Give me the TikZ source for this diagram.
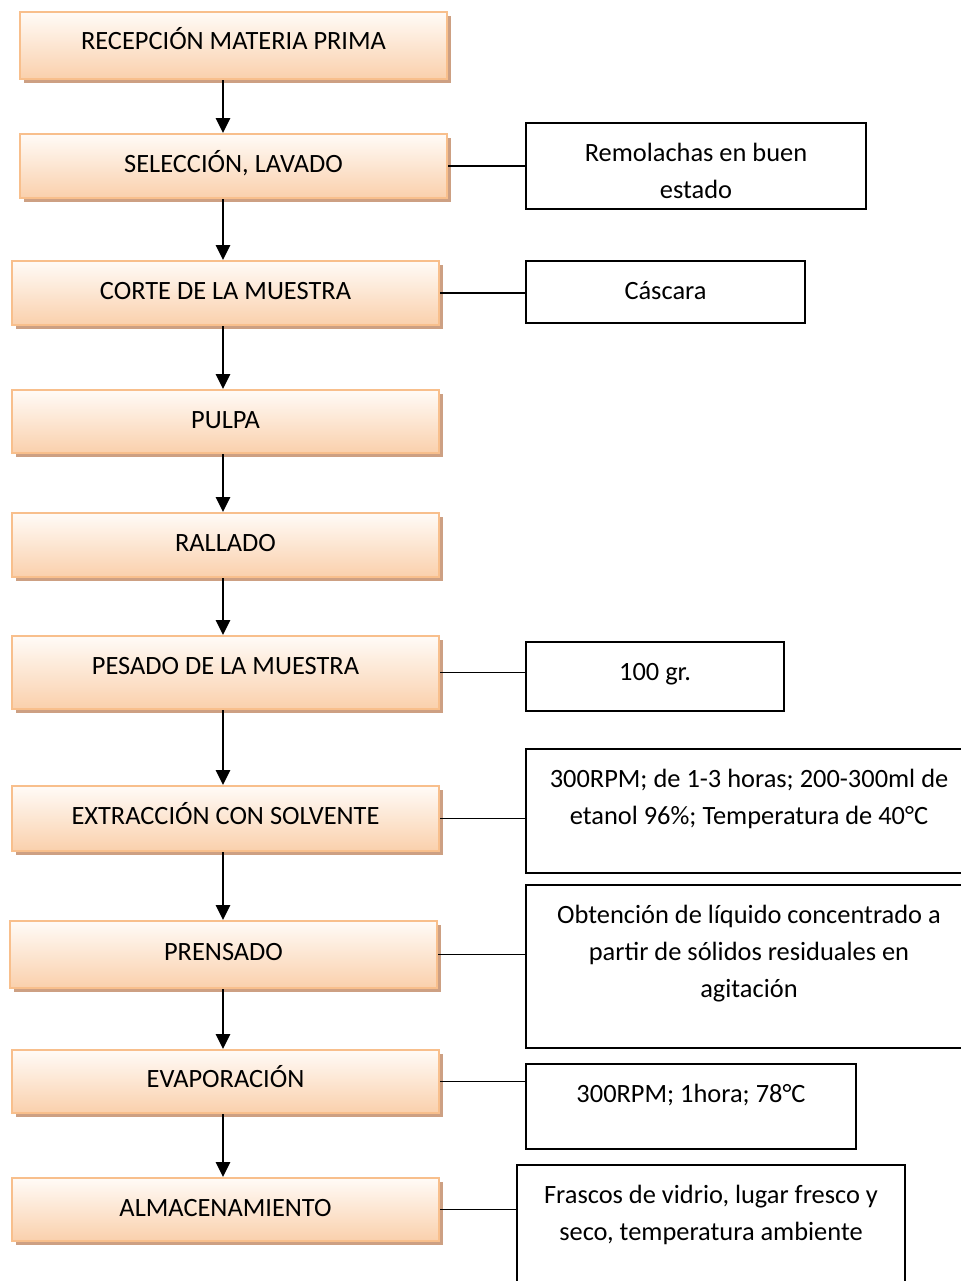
\documentclass[tikz,border=0pt]{standalone}
\usepackage{fontspec}
\setmainfont{Carlito}
\usetikzlibrary{fit,arrows.meta}

\definecolor{peachtop}{HTML}{FFFBF7}
\definecolor{peachbot}{HTML}{FAD0AC}
\definecolor{peachline}{HTML}{F8BF8C}
\definecolor{shadowbrown}{HTML}{CDA083}

% centred block of lines whose baseline is the first line
\newcommand{\txtlines}[1]{\begin{tabular}[t]{@{}c@{}}#1\end{tabular}}

\tikzset{
  stepbox/.style={draw=peachline, line width=1pt, inner sep=0pt,
    top color=peachtop, bottom color=peachbot,
    preaction={fill=shadowbrown, transform canvas={shift={(2pt,-2pt)}}}},
  notebox/.style={draw=black, line width=1.3pt, inner sep=0pt, fill=white},
  txt/.style={inner sep=0pt, anchor=base, font=\fontsize{13.2}{18.5}\selectfont},
  flow/.style={line width=1.3pt, -{Triangle[length=7.5pt,width=7pt]}},
  link/.style={line width=0.9pt}
}

\begin{document}
\begin{tikzpicture}[x=0.5pt,y=-0.5pt]
\useasboundingbox (0,0) rectangle (961,1281);
\clip (0,0) rectangle (961,1281);
\fill[white] (0,0) rectangle (961,1281);

\coordinate (ax) at (223,0);

% process steps
\node[stepbox, fit={(20,12)(447,79)}] (b1) {};
\node[stepbox, fit={(20,134)(447,198)}] (b2) {};
\node[stepbox, fit={(12,261)(439,325)}] (b3) {};
\node[stepbox, fit={(12,390)(439,453)}] (b4) {};
\node[stepbox, fit={(12,513)(439,577)}] (b5) {};
\node[stepbox, fit={(12,636)(439,709)}] (b6) {};
\node[stepbox, fit={(12,786)(439,851)}] (b7) {};
\node[stepbox, fit={(10,921)(437,988)}] (b8) {};
\node[stepbox, fit={(12,1050)(439,1113)}] (b9) {};
\node[stepbox, fit={(12,1178)(439,1241)}] (b10) {};

\node[txt] (t1) at (b1.center |- 0,49) {RECEPCIÓN MATERIA PRIMA};
\node[txt] (t2) at (b2.center |- 0,172) {SELECCIÓN, LAVADO};
\node[txt] (t3) at (b3.center |- 0,299) {CORTE DE LA MUESTRA};
\node[txt] (t4) at (b4.center |- 0,428) {PULPA};
\node[txt] (t5) at (b5.center |- 0,551) {RALLADO};
\node[txt] (t6) at (b6.center |- 0,674) {PESADO DE LA MUESTRA};
\node[txt] (t7) at (b7.center |- 0,824) {EXTRACCIÓN CON SOLVENTE};
\node[txt] (t8) at (b8.center |- 0,960) {PRENSADO};
\node[txt] (t9) at (b9.center |- 0,1087) {EVAPORACIÓN};
\node[txt] (t10) at (b10.center |- 0,1216) {ALMACENAMIENTO};

% notes
\node[notebox, fit={(526,123)(866,209)}] (r1) {};
\node[notebox, fit={(526,261)(805,323)}] (r2) {};
\node[notebox, fit={(526,642)(784,711)}] (r3) {};
\node[notebox, fit={(526,749)(972,873)}] (r4) {};
\node[notebox, fit={(526,885)(972,1048)}] (r5) {};
\node[notebox, fit={(526,1064)(856,1149)}] (r6) {};
\node[notebox, fit={(517,1165)(905,1300)}] (r7) {};

\node[txt] (n1) at (r1.center |- 0,161) {\txtlines{Remolachas en buen\\estado}};
\node[txt] (n2) at (r2.center |- 0,299) {Cáscara};
\node[txt] (n3) at (r3.center |- 0,680) {100 gr.};
\node[txt] (n4) at (r4.center |- 0,787) {\txtlines{300RPM; de 1-3 horas; 200-300ml de\\etanol 96\%; Temperatura de 40°C}};
\node[txt] (n5) at (r5.center |- 0,923) {\txtlines{Obtención de líquido concentrado a\\partir de sólidos residuales en\\agitación}};
\node[txt] (n6) at (r6.center |- 0,1102) {300RPM; 1hora; 78°C};
\node[txt] (n7) at (r7.center |- 0,1203) {\txtlines{Frascos de vidrio, lugar fresco y\\seco, temperatura ambiente}};

% flow arrows
\foreach \a/\b in {b1/b2,b2/b3,b3/b4,b4/b5,b5/b6,b6/b7,b7/b8,b8/b9,b9/b10}
  \draw[flow] (\a.south -| ax) -- (\b.north -| ax);

% side links
\draw[link] (b2.east) -- (b2.east -| r1.west);
\draw[link] (b3.east) -- (b3.east -| r2.west);
\draw[link] (b6.east) -- (b6.east -| r3.west);
\draw[link] (b7.east) -- (b7.east -| r4.west);
\draw[link] (b8.east) -- (b8.east -| r5.west);
\draw[link] (b9.east) -- (b9.east -| r6.west);
\draw[link] (b10.east) -- (b10.east -| r7.west);
\end{tikzpicture}
\end{document}
